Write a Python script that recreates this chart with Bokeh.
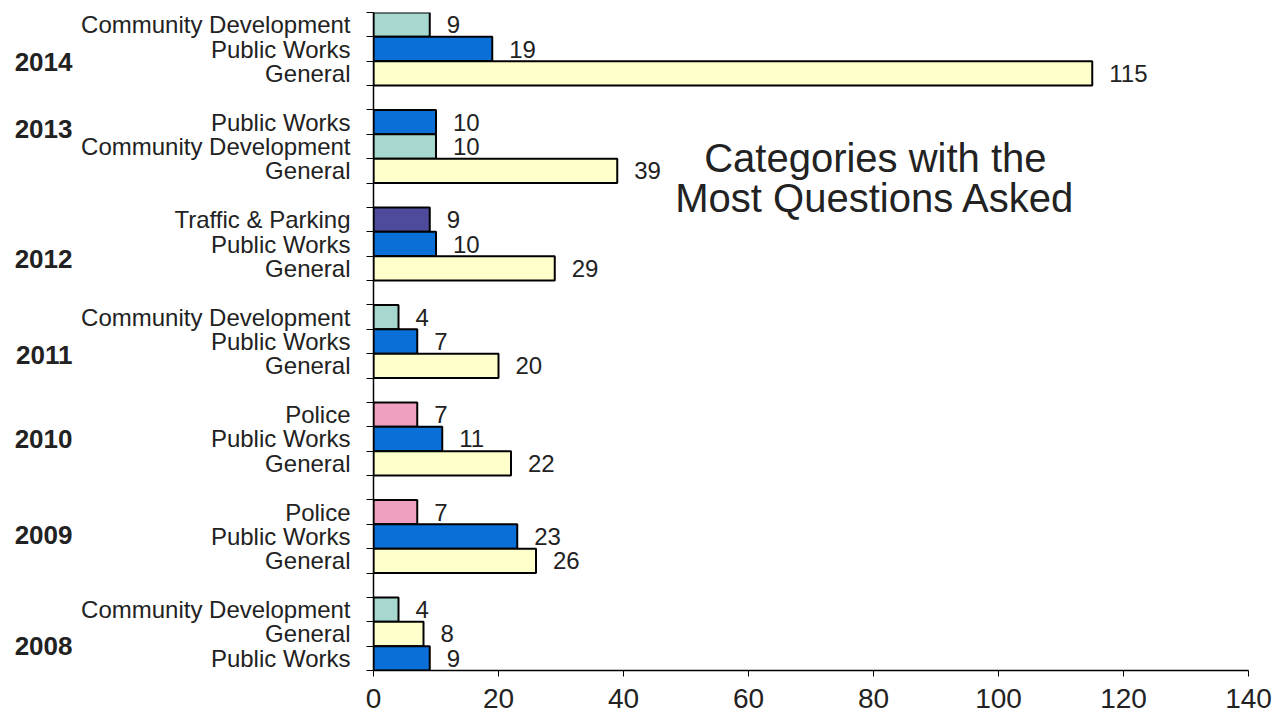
from bokeh.plotting import figure
from bokeh.models import Range1d, FixedTicker, LinearAxis, Label, ColumnDataSource
from bokeh.core.properties import value
from bokeh.embed import file_html
from bokeh.resources import INLINE

# ---- data ----
years = ["2014", "2013", "2012", "2011", "2010", "2009", "2008"]
bar_year = ["2014"] * 3 + ["2013"] * 3 + ["2012"] * 3 + ["2011"] * 3 + ["2010"] * 3 + ["2009"] * 3 + ["2008"] * 3
bar_category = [
    "Community Development", "Public Works", "General",
    "Public Works", "Community Development", "General",
    "Traffic & Parking", "Public Works", "General",
    "Community Development", "Public Works", "General",
    "Police", "Public Works", "General",
    "Police", "Public Works", "General",
    "Community Development", "General", "Public Works",
]
bar_value = [9, 19, 115, 10, 10, 39, 9, 10, 29, 4, 7, 20, 7, 11, 22, 7, 23, 26, 4, 8, 9]
x_ticks = [0, 20, 40, 60, 80, 100, 120, 140]
title_lines = ["Categories with the", "Most Questions Asked"]

category_colors = {
    "General": "#ffffcc",
    "Public Works": "#0a6fd6",
    "Community Development": "#a6d8cf",
    "Traffic & Parking": "#4e4b9c",
    "Police": "#ef9fc0",
}

# ---- layout of slots (3 bars per year, one blank slot between years) ----
slot_center = []
for i, yr in enumerate(bar_year):
    g = years.index(yr)
    k = i - 3 * g
    slot_center.append(g * 4 + k + 0.5)
n_slots = len(years) * 4 - 1
year_label_pos = [2.05, 4.8, 10.1, 14.07, 17.5, 21.46, 26.0]

src = ColumnDataSource(dict(
    center=slot_center,
    value=bar_value,
    label=[str(v) for v in bar_value],
    color=[category_colors[c] for c in bar_category],
))

TEXT = "#222222"
FONT = "Liberation Sans"

p = figure(frame_width=875, frame_height=658,
           x_range=Range1d(0, 140), y_range=Range1d(n_slots, 0),
           output_backend="svg", toolbar_location=None,
           min_border_left=373, min_border_right=30, min_border_top=12, min_border_bottom=50)
p.xgrid.visible = False
p.ygrid.visible = False
p.outline_line_color = None
p.background_fill_color = "white"

p.hbar(y="center", left=0, right="value", height=1.0, fill_color="color",
       line_color="black", line_width=2, source=src)

p.text(x="value", y="center", text="label", source=src, x_offset=17,
       text_align="left", text_baseline="middle", text_font=value(FONT),
       text_font_size="24px", text_color=TEXT)

# x axis
xa = p.xaxis[0]
xa.ticker = FixedTicker(ticks=x_ticks)
xa.axis_line_color = "black"
xa.axis_line_width = 1.5
xa.major_tick_line_color = "black"
xa.major_tick_out = 6
xa.major_tick_in = 0
xa.minor_tick_line_color = None
xa.major_label_text_font = FONT
xa.major_label_text_font_size = "28px"
xa.major_label_text_color = TEXT
xa.major_label_standoff = 12

# category y axis
ya = p.yaxis[0]
ya.ticker = FixedTicker(ticks=slot_center, minor_ticks=list(range(n_slots + 1)))
ya.major_label_overrides = {c: cat for c, cat in zip(slot_center, bar_category)}
ya.axis_line_color = "black"
ya.axis_line_width = 1.5
ya.major_tick_in = 0
ya.major_tick_out = 0
ya.minor_tick_in = 0
ya.minor_tick_out = 7
ya.minor_tick_line_color = "black"
ya.minor_tick_line_width = 1
ya.major_label_text_font = FONT
ya.major_label_text_font_size = "24px"
ya.major_label_text_color = TEXT
ya.major_label_standoff = 16

# year axis (outer)
yr_axis = LinearAxis(
    ticker=FixedTicker(ticks=year_label_pos),
    major_label_overrides={pos: yr for pos, yr in zip(year_label_pos, years)},
    axis_line_color=None, major_tick_line_color=None, minor_tick_line_color=None,
    major_label_text_font=FONT, major_label_text_font_size="26px",
    major_label_text_font_style="bold", major_label_text_color=TEXT,
    major_label_standoff=0,
)
p.add_layout(yr_axis, "left")

# chart title inside plot
for txt, yy in zip(title_lines, [5.95, 7.6]):
    p.add_layout(Label(x=80.3, y=yy, text=txt, text_align="center", text_baseline="middle",
                       text_font=FONT, text_font_size="40px", text_color=TEXT))

open("out.html", "w").write(file_html(p, INLINE, title="Categories with the Most Questions Asked"))
